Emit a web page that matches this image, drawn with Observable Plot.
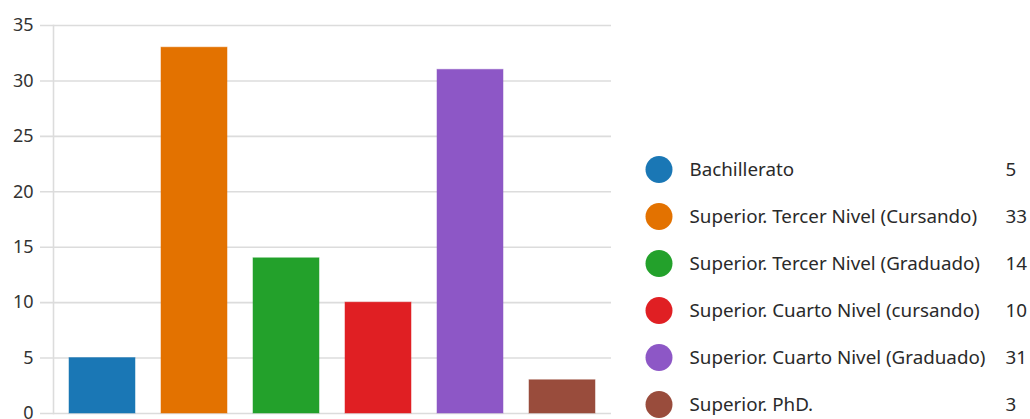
<!DOCTYPE html>
<html><head><meta charset="utf-8">
<script src="https://cdn.jsdelivr.net/npm/d3@7"></script>
<script src="https://cdn.jsdelivr.net/npm/@observablehq/plot@0.6"></script>
<style>
html,body{margin:0;padding:0;background:#fff;overflow:hidden;width:1030px;height:419px;}
#wrap{position:relative;width:1030px;height:419px;}
#chart{position:absolute;left:0;top:0;}
#legend{position:absolute;left:620px;top:0;}
</style></head>
<body><div id="wrap"><div id="chart"></div><div id="legend"></div></div>
<script>
const categories = ["Bachillerato","Superior. Tercer Nivel (Cursando)","Superior. Tercer Nivel (Graduado)","Superior. Cuarto Nivel (cursando)","Superior. Cuarto Nivel (Graduado)","Superior. PhD."];
const values = [5,33,14,10,31,3];
const colors = ["#1a77b5","#e37200","#23a12b","#e01f23","#8d57c6","#994c3c"];
const yTicks = [0,5,10,15,20,25,30,35];

const data = categories.map((c,i)=>({category:c, value:values[i]}));
const font = "'Noto Sans', sans-serif";

const chart = Plot.plot({
  width: 615, height: 440,
  marginLeft: 53, marginRight: 4, marginTop: 25, marginBottom: 27,
  style: {fontFamily: font, fontSize: "18px", color: "#333", background: "transparent"},
  x: {domain: categories, paddingInner: 0.28, paddingOuter: 0.15, axis: null},
  y: {domain: [0,35], ticks: yTicks, label: null},
  color: {domain: categories, range: colors},
  marks: [
    Plot.ruleY(yTicks, {stroke: "#dcdcdc", strokeWidth: 1.6, insetLeft: -13}),
    Plot.frame({anchor: "left", stroke: "#dcdcdc", strokeWidth: 1.6}),
    Plot.axisY(yTicks, {tickSize: 0, tickPadding: 20, fill: "#333", fontSize: 18}),
    Plot.barY(data, {x: "category", y: "value", fill: "category", stroke: "category", strokeOpacity: 0.5})
  ]
});
document.getElementById("chart").append(chart);

const legend = Plot.plot({
  width: 410, height: 419,
  margin: 0,
  style: {fontFamily: font, fontSize: "18.8px", color: "#2a2a2a", background: "transparent"},
  x: {axis: null, domain: [0,1]},
  y: {type: "point", domain: categories, range: [168, 405], padding: 0, axis: null},
  color: {domain: categories, range: colors},
  marks: [
    Plot.dot(data, {y: "category", frameAnchor: "left", dx: 38.5, r: 13.5, fill: "category"}),
    Plot.text(data, {y: "category", text: "category", frameAnchor: "left", dx: 69, textAnchor: "start", fill: "#2a2a2a", fontSize: 18.8}),
    Plot.text(data, {y: "category", text: d => String(d.value), frameAnchor: "left", dx: 385, textAnchor: "start", fill: "#2a2a2a", fontSize: 18.8})
  ]
});
document.getElementById("legend").append(legend);
</script>
</body></html>
